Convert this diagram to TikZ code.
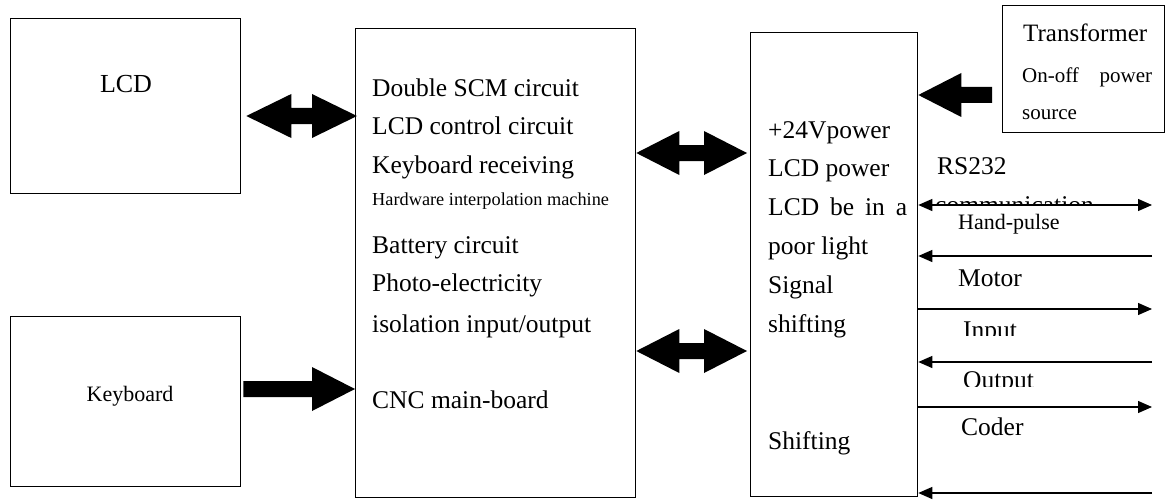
\documentclass[tikz,border=0pt]{standalone}
\usepackage{fontspec}
\setmainfont{Liberation Serif}
\usetikzlibrary{arrows.meta,calc}

% fat block arrows: #1 tip/tail, #2 tip/tail, #3 head length
\newcommand\fatboth[3]{%
  \fill (#1) -- ++(#3,22) -- ++(0,-14) -- ($(#2)+(-#3,8)$) -- ++(0,14) -- (#2)
    -- ++(-#3,-22) -- ++(0,14) -- ($(#1)+(#3,-8)$) -- ++(0,-14) -- cycle;}
\newcommand\fatright[3]{% #1 tail, #2 tip
  \fill ($(#1)+(0,8)$) -- ($(#2)+(-#3,8)$) -- ++(0,14) -- (#2)
    -- ++(-#3,-22) -- ++(0,14) -- ($(#1)+(0,-8)$) -- cycle;}
\newcommand\fatleft[3]{% #1 tip, #2 tail
  \fill (#1) -- ++(#3,22) -- ++(0,-14) -- ($(#2)+(0,8)$) -- ++(0,-16)
    -- ($(#1)+(#3,-8)$) -- ++(0,-14) -- cycle;}

\begin{document}
\begin{tikzpicture}[x=1pt,y=-1pt,
  box/.style={draw, line width=1.3pt, anchor=north west, inner sep=0pt},
  txt/.style={anchor=base west, inner sep=0pt, font=\fontsize{25.5}{30}\selectfont},
  smalltxt/.style={txt, font=\fontsize{22}{26}\selectfont},
  tinytxt/.style={txt, font=\fontsize{18.3}{22}\selectfont},
  ctxt/.style={anchor=base, inner sep=0pt},
  sig/.style={line width=1.2pt, -{Triangle[length=14pt,width=12pt]}},
  sigboth/.style={line width=1.2pt, {Triangle[length=14pt,width=12pt]}-{Triangle[length=14pt,width=12pt]}}]

\useasboundingbox (0,0) rectangle (1166,500);

% blocks
\node[box, minimum width=230pt, minimum height=175pt] (lcd) at (10,18) {};
\node[box, minimum width=230pt, minimum height=170pt] (kbd) at (10,316) {};
\node[box, minimum width=280pt, minimum height=469pt] (main) at (355,28) {};
\node[box, minimum width=167pt, minimum height=464pt] (pwr) at (750,32) {};
\node[box, minimum width=162pt, minimum height=127pt] (trans) at (1002,5) {};

% block titles
\node[ctxt, font=\fontsize{26}{30}\selectfont] (lcdt) at (126,93) {LCD};
\node[ctxt, font=\fontsize{22}{26}\selectfont] (kbdt) at (130,401) {Keyboard};

% main board contents
\node[txt] (m1) at (372,97) {Double SCM circuit};
\node[txt] (m2) at (372,135) {LCD control circuit};
\node[txt] (m3) at (372,173) {Keyboard receiving};
\node[tinytxt] (m4) at (372,205) {Hardware interpolation machine};
\node[txt] (m5) at (372,253) {Battery circuit};
\node[txt] (m6) at (372,291) {Photo-electricity};
\node[txt] (m7) at (372,332) {isolation input/output};
\node[txt] (m8) at (372,408) {CNC main-board};

% power / signal board contents
\node[txt] (p1) at (768,138) {+24Vpower};
\node[txt] (p2) at (768,176) {LCD power};
\node[txt] (p3) at (768,215) {\makebox[139pt][l]{LCD\hfill be\hfill in\hfill a}};
\node[txt] (p4) at (768,254) {poor light};
\node[txt] (p5) at (768,293) {Signal};
\node[txt] (p6) at (768,332) {shifting};
\node[txt] (p7) at (768,449) {Shifting};

% transformer contents
\node[txt, font=\fontsize{25}{30}\selectfont] (t1) at (1023,41.5) {Transformer};
\node[txt, font=\fontsize{21}{25}\selectfont] (t2) at (1022,83) {\makebox[130pt][l]{On-off\hfill power}};
\node[txt, font=\fontsize{21}{25}\selectfont] (t3) at (1022,120) {source};

% signal labels
\node[txt] (rs) at (937,174) {RS232};
\begin{scope}
  \clip (925,185) rectangle (1120,205);
  \node[txt] (comm) at (935,213.5) {communication};
\end{scope}
\node[smalltxt] (hp) at (958,229.5) {Hand-pulse};
\node[txt] (mot) at (958,286.5) {Motor};
\begin{scope}
  \clip (950,310) rectangle (1050,335.5);
  \node[txt] (inp) at (963,338.5) {Input};
\end{scope}
\begin{scope}
  \clip (950,360) rectangle (1060,386.5);
  \node[txt] (outp) at (963,388.5) {Output};
\end{scope}
\node[txt] (cod) at (961,435.5) {Coder};

% levels of the block arrows
\coordinate (ya) at (0,116);
\coordinate (yb) at (0,153);
\coordinate (yc) at (0,351);
\coordinate (yd) at (0,389);
\coordinate (ye) at (0,95);

\coordinate (a1) at ($(lcd.east |- ya)+(5,0)$);
\coordinate (a2) at ($(main.west |- ya)+(2,0)$);
\coordinate (b1) at (main.east |- yb);
\coordinate (b2) at ($(pwr.west |- yb)+(-3,0)$);
\coordinate (c1) at (main.east |- yc);
\coordinate (c2) at ($(pwr.west |- yc)+(-3,0)$);
\coordinate (d1) at ($(kbd.east |- yd)+(2,0)$);
\coordinate (d2) at (main.west |- yd);
\coordinate (e1) at (pwr.east |- ye);
\coordinate (e2) at ($(trans.west |- ye)+(-10,0)$);

\fatboth{a1}{a2}{45}
\fatboth{b1}{b2}{43}
\fatboth{c1}{c2}{43}
\fatright{d1}{d2}{43}
\fatleft{e1}{e2}{43}

% external signal lines
\coordinate (s1) at (1152,205);
\coordinate (s2) at (1152,256);
\coordinate (s3) at (1152,309);
\coordinate (s4) at (1152,362);
\coordinate (s5) at (1152,407);
\coordinate (s6) at (1152,493);

\draw[sigboth] (pwr.east |- s1) -- (s1);
\draw[sig] (s2) -- (pwr.east |- s2);
\draw[sig] (pwr.east |- s3) -- (s3);
\draw[sig] (s4) -- (pwr.east |- s4);
\draw[sig] (pwr.east |- s5) -- (s5);
\draw[sig] (s6) -- (pwr.east |- s6);

\end{tikzpicture}
\end{document}
